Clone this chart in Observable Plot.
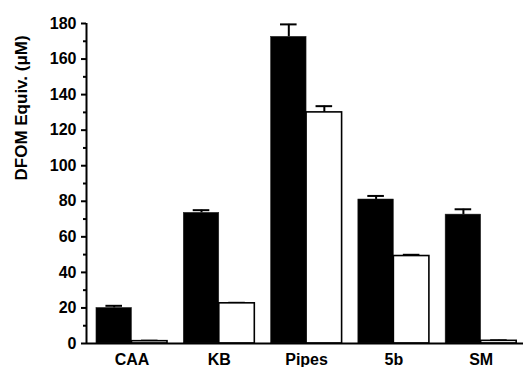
<!DOCTYPE html>
<html>
<head>
<meta charset="utf-8">
<script src="https://cdn.jsdelivr.net/npm/d3@7"></script>
<script src="https://cdn.jsdelivr.net/npm/@observablehq/plot@0.6"></script>
<style>
  html, body { margin: 0; padding: 0; background: #fff; }
  #chart svg { display: block; }
</style>
</head>
<body>
<div id="chart"></div>
<script>
const categories = ["CAA", "KB", "Pipes", "5b", "SM"];
const blackValues = [20, 73.5, 172.5, 81, 72.5];
const blackErrors = [1.2, 1.5, 7, 2, 3];
const whiteValues = [1.3, 22.6, 130, 49.2, 1.5];
const whiteErrors = [0.3, 0.3, 3.5, 0.7, 0.3];
const yMajorTicks = [0, 20, 40, 60, 80, 100, 120, 140, 160, 180];
const yMinorTicks = [10, 30, 50, 70, 90, 110, 130, 150, 170];
const yLabel = "DFOM Equiv. (\u03BCM)";

const barW = 0.407;   // bar width as fraction of group step
const capW = 0.095;   // half width of error-bar cap

const rows = [];
categories.forEach((c, i) => {
  rows.push({cat: c, series: "black", x1: i - barW, x2: i, xc: i - barW / 2, v: blackValues[i], e: blackErrors[i]});
  rows.push({cat: c, series: "white", x1: i, x2: i + barW, xc: i + barW / 2, v: whiteValues[i], e: whiteErrors[i]});
});
const blackRows = rows.filter(d => d.series === "black");
const whiteRows = rows.filter(d => d.series === "white");

const font = "'Liberation Sans', Arial, Helvetica, sans-serif";

const chart = Plot.plot({
  width: 523,
  height: 367,
  marginLeft: 86,
  marginRight: 0,
  marginTop: 23,
  marginBottom: 24,
  style: {fontFamily: font, fontWeight: "bold", fontSize: "16px", color: "#000", background: "#fff", overflow: "visible"},
  x: {domain: [-0.521, 4.485], axis: null},
  y: {domain: [0, 180], axis: null},
  marks: [
    // error bars (drawn under the bars)
    Plot.ruleX(rows, {x: "xc", y1: "v", y2: d => d.v + d.e, stroke: "#000", strokeWidth: 2}),
    Plot.ruleY(rows, {y: d => d.v + d.e, x1: d => d.xc - capW, x2: d => d.xc + capW, stroke: "#000", strokeWidth: 2}),
    Plot.rectY(blackRows, {x1: "x1", x2: "x2", y1: 0, y2: "v", fill: "#000", stroke: "#222", strokeWidth: 0.5}),
    Plot.rectY(whiteRows, {x1: "x1", x2: "x2", y1: 0, y2: "v", fill: "#fff", stroke: "#000", strokeWidth: 1.6}),
    // axes
    Plot.axisY({ticks: yMajorTicks, label: null, tickSize: 5, tickPadding: 5, tickFormat: d => d, strokeWidth: 2, fontWeight: "bold", fontSize: 16}),
    Plot.axisY({ticks: yMinorTicks, label: null, tickSize: 3, tickFormat: () => "", strokeWidth: 2}),
    Plot.axisX({ticks: d3.range(categories.length), label: null, tickSize: 0, tickPadding: 10.5, tickFormat: i => categories[i], fontWeight: "bold", fontSize: 16}),
    Plot.ruleX([-0.521], {y1: 0, y2: 180, stroke: "#000", strokeWidth: 2}),
    Plot.ruleY([0], {stroke: "#000", strokeWidth: 2}),
    Plot.text([yLabel], {frameAnchor: "left", dx: -65, dy: -3, rotate: -90, text: d => d, fontWeight: "bold", fontSize: 17, fill: "#000"})
  ]
});
document.getElementById("chart").appendChild(chart);
</script>
</body>
</html>
